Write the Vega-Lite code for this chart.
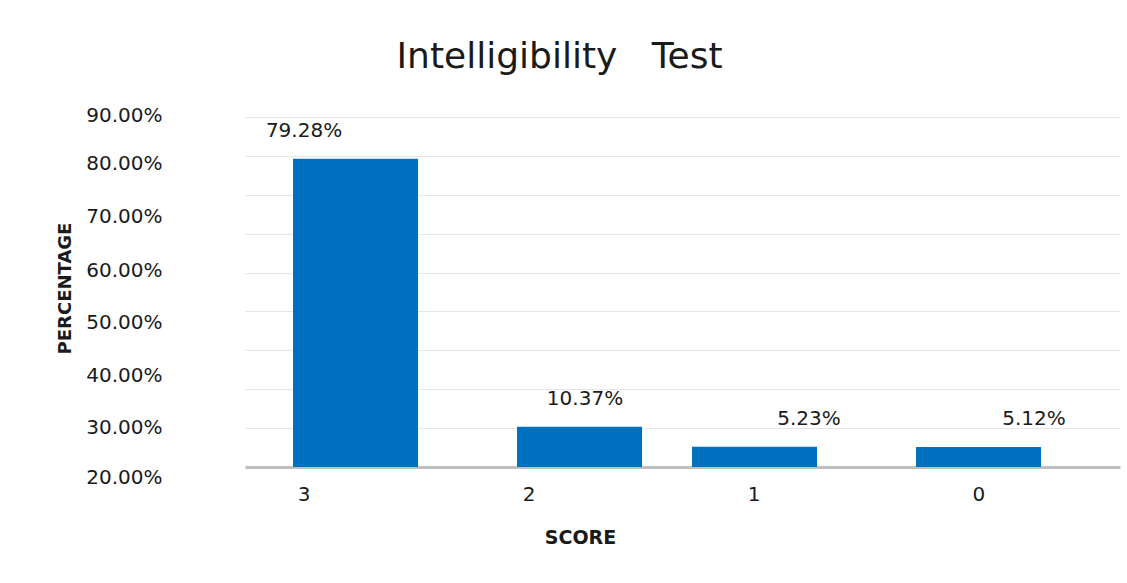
{
  "$schema": "https://vega.github.io/schema/vega-lite/v6.json",
  "autosize": {"type": "none"},
  "width": 875,
  "height": 350,
  "padding": {"left": 245, "top": 117, "right": 7, "bottom": 116},
  "background": "white",
  "title": {
    "text": "Intelligibility\u00a0\u00a0\u00a0Test",
    "font": "DejaVu Sans",
    "fontSize": 36,
    "fontWeight": "normal",
    "color": "#1a1a1a",
    "anchor": "middle",
    "dx": -123,
    "baseline": "alphabetic",
    "offset": 1
  },
  "data": {
    "values": [
      {"score": "3", "pct": 0.7928},
      {"score": "2", "pct": 0.1037},
      {"score": "1", "pct": 0.0523},
      {"score": "0", "pct": 0.0512}
    ]
  },
  "encoding": {
    "x": {
      "field": "score",
      "type": "nominal",
      "sort": ["3", "2", "1", "0"],
      "scale": {"paddingInner": 0.4444, "paddingOuter": 0.1667, "align": 0},
      "axis": {
        "title": "SCORE",
        "titleFont": "DejaVu Sans",
        "titleFontSize": 19,
        "titleFontWeight": "bold",
        "titleColor": "#1a1a1a",
        "titleX": 335,
        "titleY": 76,
        "titleBaseline": "alphabetic",
        "labelAngle": 0,
        "labelFont": "DejaVu Sans",
        "labelFontSize": 20,
        "labelColor": "#1a1a1a",
        "labelPadding": 17,
        "labelOffset": -3.5,
        "ticks": false,
        "domainColor": "#bfbfbf",
        "domainWidth": 3,
        "grid": false
      }
    },
    "y": {
      "field": "pct",
      "type": "quantitative",
      "scale": {"domain": [-0.027, 0.905], "range": [360.5, -1.944], "nice": false, "zero": false},
      "axis": {
        "title": "PERCENTAGE",
        "titleFont": "DejaVu Sans",
        "titleFontSize": 18,
        "titleFontWeight": "bold",
        "titleColor": "#1a1a1a",
        "titleX": -175,
        "titleY": 171,
        "titleBaseline": "alphabetic",
        "values": [0, 0.1, 0.2, 0.3, 0.4, 0.5, 0.6, 0.7, 0.8, 0.9, 0.904, 0.78, 0.645, 0.506, 0.372, 0.236, 0.102, -0.026],
        "labelExpr": "abs(datum.value*10 - round(datum.value*10)) < 0.001 ? '' : format(round((datum.value*100 + 2.6) / 13.3) * 10 + 20, '.2f') + '%'",
        "labelOverlap": false,
        "labelFont": "DejaVu Sans",
        "labelFontSize": 20,
        "labelColor": "#1a1a1a",
        "labelPadding": 83,
        "ticks": false,
        "domain": false,
        "grid": true,
        "gridColor": "#e6e6e6",
        "gridWidth": 1,
        "gridOpacity": {"condition": {"test": "abs(datum.value*10 - round(datum.value*10)) < 0.001", "value": 1}, "value": 0}
      }
    }
  },
  "layer": [
    {
      "mark": {
        "type": "bar",
        "color": "#0070c0",
        "xOffset": {"expr": "datum.score === '3' ? 48 : datum.score === '2' ? 47 : datum.score === '1' ? -3 : -4"}
      }
    },
    {
      "mark": {
        "type": "text",
        "font": "DejaVu Sans",
        "fontSize": 20,
        "color": "#1a1a1a",
        "baseline": "middle",
        "dy": -28,
        "dx": {"expr": "datum.score === '3' ? -3.5 : datum.score === '2' ? 52.5 : 51.5"}
      },
      "encoding": {
        "text": {"field": "pct", "type": "quantitative", "format": ".2%"}
      }
    }
  ],
  "config": {"view": {"stroke": null}}
}
